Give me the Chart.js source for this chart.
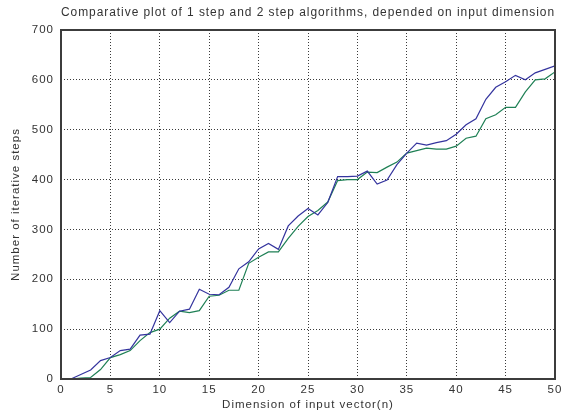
<!DOCTYPE html>
<html>
<head>
<meta charset="utf-8">
<script src="https://cdn.jsdelivr.net/npm/chart.js@4/dist/chart.umd.min.js"></script>
<style>
  html, body { margin: 0; padding: 0; background: #fff; }
  #wrap { width: 571px; height: 416px; }
</style>
</head>
<body>
<div id="wrap"><canvas id="c" width="571" height="416"></canvas></div>
<script>
// Input dimension n
const dims = Array.from({length: 50}, (_, i) => i + 1);

// Iterative steps needed by each algorithm
const oneStep = [0, 9, 18, 37, 43, 57, 60, 88, 90, 137,
                 113, 136, 140, 180, 170, 169, 184, 221, 235, 261,
                 272, 260, 307, 327, 342, 329, 354, 406, 406, 407,
                 417, 391, 399, 430, 453, 473, 469, 474, 478, 491,
                 510, 522, 561, 585, 596, 609, 600, 614, 621, 628];
const twoStep = [0, 2, 3, 19, 43, 49, 57, 77, 93, 100,
                 122, 136, 133, 137, 166, 168, 178, 178, 232, 244,
                 255, 255, 282, 306, 326, 338, 355, 398, 400, 400,
                 415, 414, 425, 435, 453, 458, 463, 461, 461, 467,
                 483, 487, 522, 530, 545, 545, 576, 600, 602, 616];

const xTicks = [0, 5, 10, 15, 20, 25, 30, 35, 40, 45, 50];
const yTicks = [0, 100, 200, 300, 400, 500, 600, 700];

const FONT = "'Liberation Sans', Arial, sans-serif";
const TEXT = '#333333';

// Spaced-out lettering and a closed frame around the plot area
const framePlugin = {
  id: 'frame',
  beforeDraw(chart) {
    chart.ctx.letterSpacing = '1px';
  },
  afterDatasetsDraw(chart) {
    const {ctx, chartArea: a} = chart;
    ctx.save();
    ctx.strokeStyle = '#3c3c3c';
    ctx.lineWidth = 2;
    ctx.strokeRect(a.left, a.top, a.right - a.left, a.bottom - a.top);
    ctx.restore();
  }
};

new Chart(document.getElementById('c'), {
  type: 'line',
  data: {
    datasets: [
      {
        label: '1 step',
        data: dims.map((n, i) => ({x: n, y: oneStep[i]})),
        borderColor: '#34349e',
        borderWidth: 1.2,
        pointRadius: 0,
        tension: 0,
        fill: false
      },
      {
        label: '2 step',
        data: dims.map((n, i) => ({x: n, y: twoStep[i]})),
        borderColor: '#1f8055',
        borderWidth: 1.2,
        pointRadius: 0,
        tension: 0,
        fill: false
      }
    ]
  },
  options: {
    responsive: false,
    animation: false,
    devicePixelRatio: 1,
    layout: { padding: { left: 0, right: 16, top: 0, bottom: 0 } },
    plugins: {
      legend: { display: false },
      tooltip: { enabled: false },
      title: {
        display: true,
        fullSize: false,
        text: 'Comparative plot of 1 step and 2 step algorithms, depended on input dimension',
        color: TEXT,
        font: { family: FONT, size: 12.5, weight: 'normal', lineHeight: 1.2 },
        padding: { top: 5, bottom: 10 }
      }
    },
    scales: {
      x: {
        type: 'linear',
        min: 0,
        max: 50,
        afterFit(scale) { scale.height = 37; },
        afterBuildTicks(scale) { scale.ticks = xTicks.map(v => ({value: v})); },
        ticks: {
          color: TEXT,
          font: { family: FONT, size: 11.5 },
          padding: 4,
          maxRotation: 0,
          autoSkip: false
        },
        grid: {
          color: '#3a3a3a',
          lineWidth: 1,
          drawTicks: false
        },
        border: { display: false, dash: [1, 2] },
        title: {
          display: true,
          text: 'Dimension of input vector(n)',
          color: TEXT,
          font: { family: FONT, size: 11.5 },
          padding: { top: 0, bottom: 4 }
        }
      },
      y: {
        type: 'linear',
        min: 0,
        max: 700,
        afterFit(scale) { scale.width = 61; },
        afterBuildTicks(scale) { scale.ticks = yTicks.map(v => ({value: v})); },
        ticks: {
          color: TEXT,
          font: { family: FONT, size: 11.5 },
          padding: 7
        },
        grid: {
          color: '#3a3a3a',
          lineWidth: 1,
          drawTicks: false
        },
        border: { display: false, dash: [1, 2] },
        title: {
          display: true,
          text: 'Number of iterative steps',
          color: TEXT,
          font: { family: FONT, size: 11.5 },
          padding: { top: 9, bottom: 0 }
        }
      }
    }
  },
  plugins: [framePlugin]
});
</script>
</body>
</html>
